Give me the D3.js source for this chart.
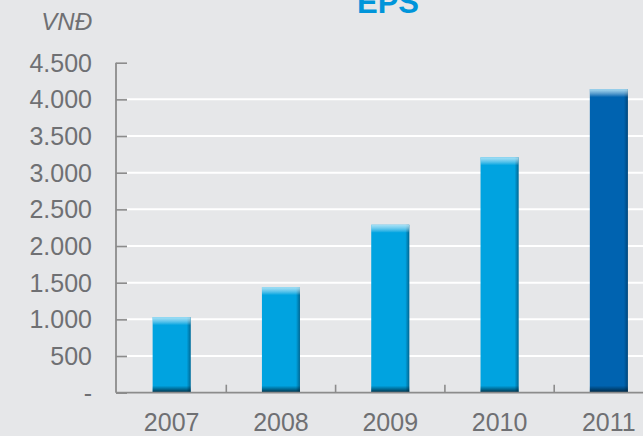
<!DOCTYPE html>
<html>
<head>
<meta charset="utf-8">
<script src="https://cdn.jsdelivr.net/npm/d3@7"></script>
<style>
  body { margin: 0; background: #e6e7e9; }
  svg { display: block; }
</style>
</head>
<body>
<svg width="643" height="436"></svg>
<script>
var years = ["2007", "2008", "2009", "2010", "2011"]
var eps = [1030, 1440, 2290, 3210, 4140]
var barColors = ["#00a3e0", "#00a3e0", "#00a3e0", "#00a3e0", "#0063b0"]
var yTicks = [0, 500, 1000, 1500, 2000, 2500, 3000, 3500, 4000, 4500]

var svg = d3.select("svg")

// gradients for the bar shading
var defs = svg.append("defs")
var gTop = defs.append("linearGradient").attr("id", "gTop").attr("x1", 0).attr("y1", 0).attr("x2", 0).attr("y2", 1)
gTop.append("stop").attr("offset", 0).attr("stop-color", "#b8e7f8").attr("stop-opacity", 0.9)
gTop.append("stop").attr("offset", 1).attr("stop-color", "#ffffff").attr("stop-opacity", 0)
var gBot = defs.append("linearGradient").attr("id", "gBot").attr("x1", 0).attr("y1", 0).attr("x2", 0).attr("y2", 1)
gBot.append("stop").attr("offset", 0).attr("stop-color", "#001a2a").attr("stop-opacity", 0)
gBot.append("stop").attr("offset", 1).attr("stop-color", "#001a2a").attr("stop-opacity", 0.85)
var gSide = defs.append("linearGradient").attr("id", "gSide").attr("x1", 0).attr("y1", 0).attr("x2", 1).attr("y2", 0)
gSide.append("stop").attr("offset", 0).attr("stop-color", "#002a45").attr("stop-opacity", 0)
gSide.append("stop").attr("offset", 1).attr("stop-color", "#002a45").attr("stop-opacity", 0.5)

var y = d3.scaleLinear().domain([0, 4500]).range([392.7, 62.7])
var x = d3.scaleBand().domain(years).range([117, 663.5]).paddingInner(0.652).paddingOuter(0.326)

// grid lines
svg.append("g").selectAll("line")
  .data(yTicks.filter(function(d){ return d > 0 && d < 4500 }))
  .join("line")
  .attr("x1", 127).attr("x2", 643)
  .attr("y1", function(d){ return y(d) }).attr("y2", function(d){ return y(d) })
  .attr("stroke", "#ffffff").attr("stroke-width", 2)

// y axis
var yAxis = svg.append("g").attr("transform", "translate(116,0)")
  .call(d3.axisRight(y).tickValues(yTicks).tickSize(11).tickFormat(""))
yAxis.select(".domain").remove()
yAxis.selectAll(".tick line").attr("stroke", "#8c8c8c").attr("stroke-width", 1.6)
svg.append("line").attr("x1", 116).attr("x2", 116).attr("y1", y(4500)).attr("y2", y(0))
  .attr("stroke", "#8c8c8c").attr("stroke-width", 1.8)

svg.append("g").selectAll("text")
  .data(yTicks)
  .join("text")
  .attr("x", 92).attr("y", function(d){ return y(d) + 9 })
  .attr("text-anchor", "end")
  .attr("font-family", "Liberation Sans, Arial, sans-serif")
  .attr("font-size", 25)
  .attr("fill", "#6f7073")
  .text(function(d){ return d === 0 ? "-" : d3.format(",")(d).replace(",", ".") })

// bars
var bars = svg.append("g").selectAll("g").data(years).join("g")
bars.append("rect")
  .attr("x", function(d){ return x(d) }).attr("width", x.bandwidth())
  .attr("y", function(d, i){ return y(eps[i]) }).attr("height", function(d, i){ return y(0) - y(eps[i]) })
  .attr("fill", function(d, i){ return barColors[i] })
bars.append("rect")
  .attr("x", function(d){ return x(d) + x.bandwidth() - 4 }).attr("width", 4)
  .attr("y", function(d, i){ return y(eps[i]) }).attr("height", function(d, i){ return y(0) - y(eps[i]) })
  .attr("fill", "url(#gSide)")
bars.append("rect")
  .attr("x", function(d){ return x(d) }).attr("width", x.bandwidth())
  .attr("y", function(d, i){ return y(eps[i]) }).attr("height", 8)
  .attr("fill", "url(#gTop)")
bars.append("rect")
  .attr("x", function(d){ return x(d) }).attr("width", x.bandwidth())
  .attr("y", y(0) - 7).attr("height", 7)
  .attr("fill", "url(#gBot)")

// x axis baseline and separators
svg.append("line").attr("x1", 116).attr("x2", 643).attr("y1", y(0)).attr("y2", y(0))
  .attr("stroke", "#8c8c8c").attr("stroke-width", 1.8)
svg.append("g").selectAll("line")
  .data(years.slice(1))
  .join("line")
  .attr("x1", function(d){ return x(d) - x.step() * x.paddingInner() / 2 })
  .attr("x2", function(d){ return x(d) - x.step() * x.paddingInner() / 2 })
  .attr("y1", y(0)).attr("y2", y(0) - 8)
  .attr("stroke", "#8c8c8c").attr("stroke-width", 1.6)

svg.append("g").selectAll("text")
  .data(years)
  .join("text")
  .attr("x", function(d){ return x(d) + x.bandwidth() / 2 })
  .attr("y", 431)
  .attr("text-anchor", "middle")
  .attr("font-family", "Liberation Sans, Arial, sans-serif")
  .attr("font-size", 25)
  .attr("fill", "#6f7073")
  .text(function(d){ return d })

// unit and title
svg.append("text").attr("x", 92).attr("y", 30).attr("text-anchor", "end")
  .attr("font-family", "Liberation Sans, Arial, sans-serif").attr("font-style", "italic")
  .attr("font-size", 24).attr("fill", "#6f7073").text("VNĐ")
svg.append("text").attr("x", 388).attr("y", 13).attr("text-anchor", "middle")
  .attr("font-family", "Liberation Sans, Arial, sans-serif").attr("font-weight", "bold")
  .attr("font-size", 31).attr("fill", "#0095da").text("EPS")
</script>
</body>
</html>
